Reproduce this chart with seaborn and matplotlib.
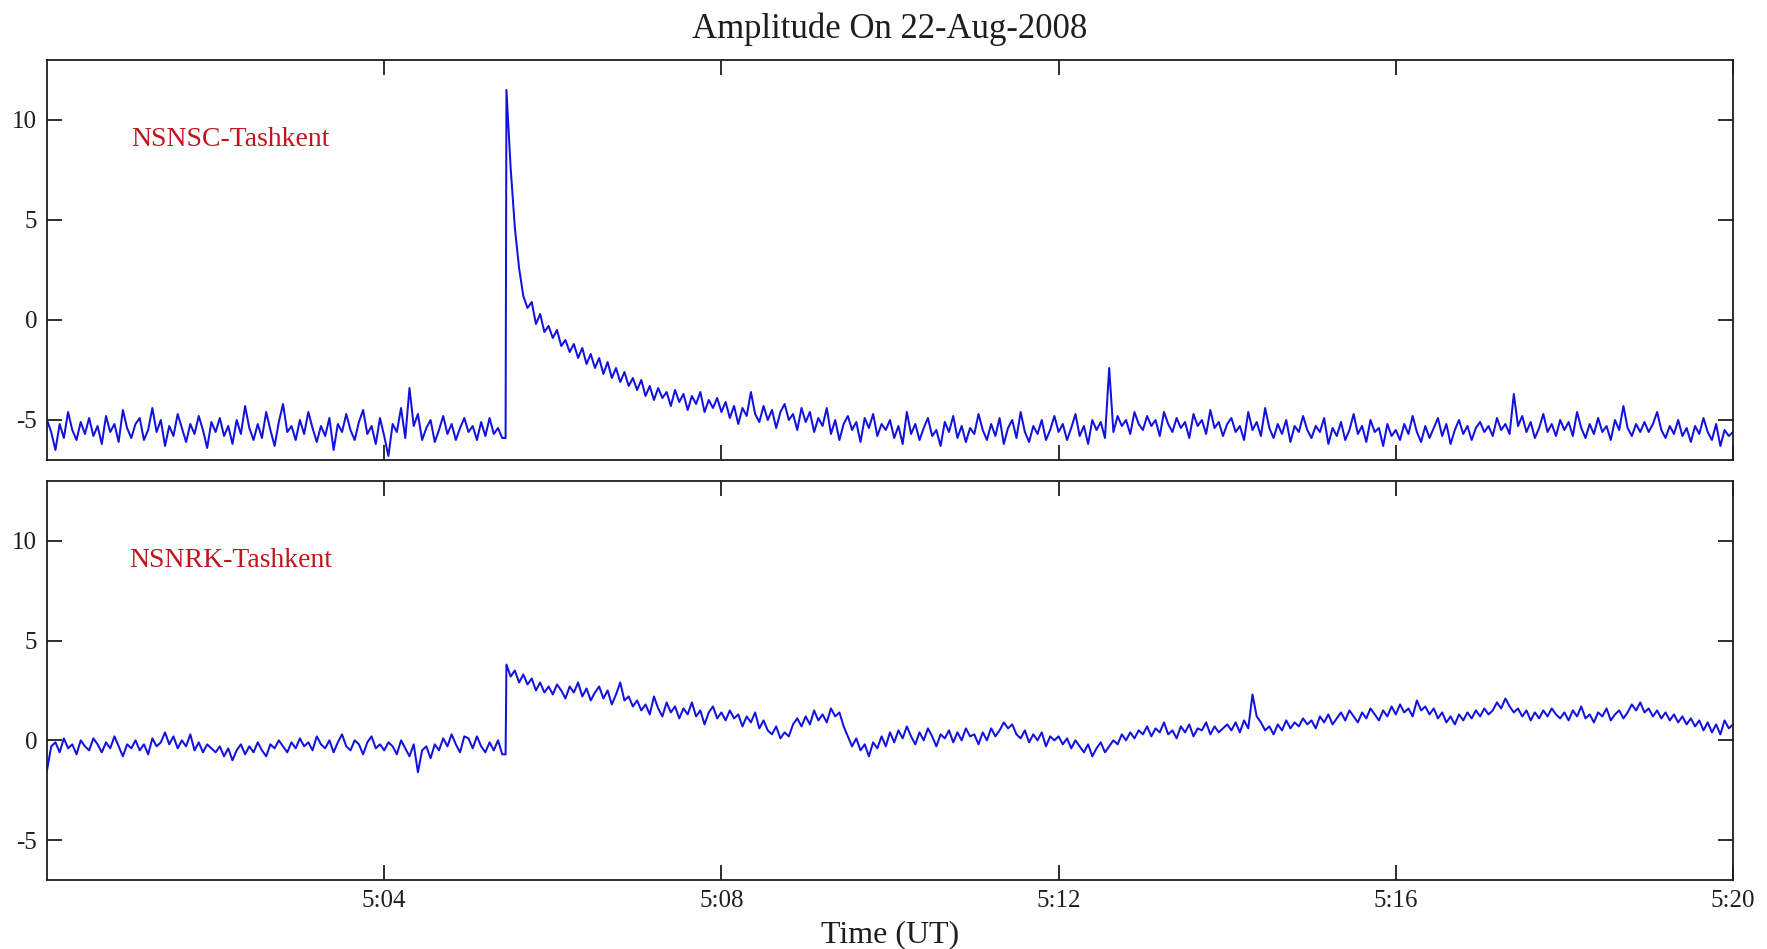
import numpy as np
import pandas as pd
import matplotlib
matplotlib.use("Agg")
import matplotlib.pyplot as plt
import seaborn as sns

# ---------------- data ----------------
TITLE = "Amplitude On 22-Aug-2008"
X_LABEL = "Time (UT)"
STATIONS = ["NSNSC-Tashkent", "NSNRK-Tashkent"]
X_TICKS_MIN = [4, 8, 12, 16, 20]           # minutes after 5:00
X_TICK_LABELS = ["5:04", "5:08", "5:12", "5:16", "5:20"]
Y_TICKS = [-5, 0, 5, 10]
SAMPLE_STEP_MIN = 0.05                     # one sample every 3 s, 5:00 .. 5:20
ONSET_MIN = 5.44                           # flare onset (just before jump)
ONSET_PRE = [-5.9, -0.7]                   # value at onset before the jump

# NSNSC-Tashkent amplitude, one row per minute (20 samples each) + final sample
NSNSC = [
    -5.0, -5.6, -6.5, -5.2, -5.9, -4.6, -5.5, -6.0, -5.1, -5.7, -4.9, -5.8, -5.3, -6.2, -4.8, -5.6, -5.2, -6.1, -4.5, -5.4,
    -5.9, -5.2, -4.9, -6.0, -5.5, -4.4, -5.6, -5.0, -6.3, -5.3, -5.8, -4.7, -5.4, -6.1, -5.2, -5.7, -4.8, -5.5, -6.4, -5.1,
    -5.6, -4.9, -5.8, -5.3, -6.2, -5.0, -5.7, -4.3, -5.4, -6.0, -5.2, -5.9, -4.6, -5.5, -6.3, -5.1, -4.2, -5.6, -5.3, -6.0,
    -5.0, -5.7, -4.6, -5.4, -6.1, -5.3, -5.8, -4.9, -6.5, -5.2, -5.6, -4.7, -5.5, -6.0, -5.1, -4.5, -5.7, -5.3, -6.2, -4.9,
    -5.8, -6.8, -5.2, -5.6, -4.4, -5.9, -3.4, -5.3, -4.7, -6.0, -5.4, -5.0, -6.1, -5.5, -4.8, -5.7, -5.2, -6.0, -5.4, -4.9,
    -5.6, -5.3, -6.0, -5.1, -5.8, -4.9, -5.7, -5.4, -5.9, 11.5, 7.6, 4.6, 2.6, 1.2, 0.6, 0.9, -0.2, 0.3, -0.6, -0.3,
    -0.9, -0.5, -1.3, -1.0, -1.6, -1.2, -1.9, -1.4, -2.2, -1.7, -2.4, -1.9, -2.7, -2.1, -2.9, -2.4, -3.1, -2.6, -3.3, -2.9,
    -3.5, -3.0, -3.8, -3.3, -4.0, -3.4, -3.9, -3.6, -4.3, -3.5, -4.1, -3.7, -4.5, -3.8, -4.2, -3.6, -4.6, -4.0, -4.4, -3.9,
    -4.6, -4.1, -4.9, -4.3, -5.2, -4.4, -4.8, -3.6, -4.7, -5.1, -4.3, -5.0, -4.5, -5.4, -4.6, -4.2, -5.0, -4.7, -5.5, -4.4,
    -5.1, -4.6, -5.6, -4.9, -5.3, -4.4, -5.7, -5.0, -6.0, -5.2, -4.8, -5.5, -5.1, -6.1, -4.9, -5.4, -4.7, -5.8, -5.2, -5.5,
    -5.0, -5.9, -5.3, -6.2, -4.6, -5.7, -5.2, -6.0, -5.4, -4.9, -5.8, -5.5, -6.3, -5.1, -5.6, -4.8, -5.9, -5.3, -6.1, -5.4,
    -5.7, -4.7, -5.5, -6.0, -5.2, -5.8, -4.9, -6.2, -5.4, -5.0, -5.9, -4.6, -5.6, -6.1, -5.3, -5.7, -5.0, -6.0, -5.5, -4.8,
    -5.6, -5.2, -6.0, -5.4, -4.7, -5.8, -5.3, -6.2, -5.0, -5.5, -5.1, -5.9, -2.4, -5.6, -4.8, -5.3, -5.0, -5.7, -4.6, -5.2,
    -5.5, -4.8, -5.3, -5.0, -5.8, -4.6, -5.2, -5.6, -4.9, -5.4, -5.1, -5.9, -4.7, -5.3, -5.0, -5.7, -4.5, -5.4, -5.1, -5.8,
    -5.2, -4.9, -5.6, -5.3, -6.0, -4.6, -5.5, -5.1, -5.8, -4.4, -5.4, -5.9, -5.2, -5.7, -5.0, -6.1, -5.3, -5.6, -4.8, -5.5,
    -5.9, -5.3, -5.6, -4.9, -6.2, -5.4, -5.8, -5.1, -6.0, -5.5, -4.7, -5.7, -5.3, -6.1, -5.0, -5.6, -5.4, -6.3, -5.2, -5.8,
    -5.5, -6.0, -5.2, -5.7, -4.8, -5.6, -6.1, -5.3, -5.9, -5.4, -4.9, -5.8, -5.2, -6.2, -5.5, -5.0, -5.7, -5.3, -6.0, -5.4,
    -5.1, -5.6, -5.3, -5.8, -4.9, -5.5, -5.2, -5.7, -3.7, -5.3, -4.8, -5.6, -5.1, -5.9, -5.4, -4.7, -5.6, -5.2, -5.8, -5.0,
    -5.5, -5.1, -5.8, -4.6, -5.4, -5.9, -5.2, -5.7, -4.9, -5.6, -5.3, -6.0, -5.0, -5.5, -4.3, -5.4, -5.8, -5.2, -5.6, -5.1,
    -5.6, -5.2, -4.6, -5.5, -5.9, -5.3, -5.7, -5.0, -5.8, -5.4, -6.1, -5.3, -5.7, -4.9, -5.6, -6.0, -5.2, -6.3, -5.5, -5.8,
    -5.6,
]

# NSNRK-Tashkent amplitude, one row per minute (20 samples each) + final sample
NSNRK = [
    -1.5, -0.3, -0.1, -0.6, 0.1, -0.4, -0.2, -0.7, 0.0, -0.3, -0.5, 0.1, -0.2, -0.6, -0.1, -0.4, 0.2, -0.3, -0.8, -0.2,
    -0.4, 0.0, -0.5, -0.2, -0.7, 0.1, -0.3, -0.1, 0.4, -0.2, 0.2, -0.4, 0.0, -0.3, 0.3, -0.5, -0.1, -0.6, -0.2, -0.4,
    -0.6, -0.3, -0.8, -0.4, -1.0, -0.5, -0.2, -0.7, -0.3, -0.6, -0.1, -0.5, -0.8, -0.2, -0.4, 0.0, -0.3, -0.6, -0.1, -0.4,
    0.1, -0.3, -0.1, -0.5, 0.2, -0.2, -0.4, 0.0, -0.6, -0.1, 0.3, -0.3, -0.5, 0.0, -0.2, -0.7, -0.1, 0.2, -0.4, -0.2,
    -0.5, -0.1, -0.3, -0.7, 0.0, -0.4, -0.8, -0.2, -1.6, -0.5, -0.3, -0.9, -0.2, -0.5, 0.1, -0.3, 0.3, -0.2, -0.6, 0.2,
    0.1, -0.4, 0.2, -0.3, -0.6, -0.1, -0.5, 0.0, -0.7, 3.8, 3.2, 3.5, 2.9, 3.3, 2.8, 3.1, 2.5, 2.9, 2.4, 2.7,
    2.3, 2.8, 2.5, 2.1, 2.7, 2.4, 2.9, 2.2, 2.6, 2.0, 2.4, 2.7, 2.1, 2.5, 1.8, 2.3, 2.9, 2.0, 2.2, 1.7,
    2.0, 1.5, 1.8, 1.3, 2.2, 1.6, 1.2, 1.9, 1.4, 1.7, 1.1, 1.6, 1.3, 1.9, 1.2, 1.5, 0.8, 1.4, 1.7, 1.1,
    1.4, 1.0, 1.5, 1.1, 1.3, 0.7, 1.2, 0.9, 1.4, 0.6, 1.0, 0.5, 0.3, 0.7, 0.1, 0.4, 0.2, 0.8, 1.1, 0.7,
    1.2, 0.8, 1.5, 1.0, 1.3, 0.9, 1.6, 1.2, 1.4, 0.7, 0.2, -0.3, 0.1, -0.5, -0.2, -0.8, -0.1, -0.4, 0.2, -0.3,
    0.4, -0.1, 0.5, 0.1, 0.7, 0.2, -0.2, 0.4, 0.0, 0.6, 0.2, -0.3, 0.3, 0.1, 0.5, -0.1, 0.4, 0.0, 0.6, 0.2,
    0.3, -0.2, 0.4, 0.0, 0.6, 0.2, 0.5, 0.9, 0.6, 0.8, 0.3, 0.1, 0.5, -0.1, 0.3, 0.0, 0.4, -0.3, 0.2, 0.0,
    0.2, -0.2, 0.1, -0.4, 0.0, -0.3, -0.6, -0.2, -0.8, -0.4, -0.1, -0.6, -0.3, 0.0, -0.2, 0.3, 0.0, 0.4, 0.1, 0.5,
    0.3, 0.7, 0.2, 0.6, 0.4, 0.9, 0.3, 0.5, 0.1, 0.7, 0.4, 0.8, 0.2, 0.6, 0.5, 0.9, 0.3, 0.7, 0.4, 0.6,
    0.8, 0.5, 0.9, 0.4, 1.0, 0.6, 2.3, 1.2, 0.9, 0.5, 0.7, 0.3, 0.8, 0.5, 1.0, 0.6, 0.9, 0.7, 1.1, 0.8,
    1.0, 0.6, 1.2, 0.9, 1.3, 0.8, 1.1, 1.4, 1.0, 1.5, 1.2, 0.9, 1.4, 1.1, 1.6, 1.3, 1.0, 1.5, 1.2, 1.7,
    1.3, 1.8, 1.4, 1.6, 1.2, 2.0, 1.5, 1.7, 1.3, 1.6, 1.1, 1.4, 0.9, 1.2, 0.8, 1.3, 1.0, 1.4, 1.1, 1.5,
    1.2, 1.6, 1.3, 1.5, 1.9, 1.6, 2.1, 1.7, 1.4, 1.6, 1.2, 1.5, 1.0, 1.4, 1.1, 1.5, 1.2, 1.6, 1.3, 1.1,
    1.4, 1.0, 1.5, 1.2, 1.7, 1.1, 1.3, 0.9, 1.4, 1.2, 1.6, 1.0, 1.3, 1.5, 1.1, 1.4, 1.8, 1.5, 1.9, 1.4,
    1.6, 1.2, 1.5, 1.1, 1.4, 1.0, 1.3, 0.9, 1.2, 0.8, 1.1, 0.7, 1.0, 0.5, 0.9, 0.4, 0.8, 0.3, 1.0, 0.6,
    0.8,
]

# ---------------- build frames ----------------
def build_frame(values, pre_value):
    t = np.round(np.arange(len(values)) * SAMPLE_STEP_MIN, 4)
    v = np.asarray(values, dtype=float)
    idx = np.searchsorted(t, ONSET_MIN)
    t = np.insert(t, idx, ONSET_MIN)
    v = np.insert(v, idx, pre_value)
    return pd.DataFrame({"minute": t, "amplitude": v})

frames = [build_frame(NSNSC, ONSET_PRE[0]), build_frame(NSNRK, ONSET_PRE[1])]

# ---------------- style ----------------
sns.set_style("ticks")
plt.rcParams["font.family"] = ["Liberation Serif", "DejaVu Serif"]
plt.rcParams["axes.linewidth"] = 1.3

W, H = 1767, 949
fig = plt.figure(figsize=(W / 100, H / 100), dpi=100)
left, right = 47 / W, 1733 / W
boxes = [(60, 460), (481, 880)]
axes = []
for top_px, bot_px in boxes:
    ax = fig.add_axes([left, 1 - bot_px / H, right - left, (bot_px - top_px) / H])
    axes.append(ax)

LINE_COLOR = "#1212e0"
LABEL_COLOR = "#c0151c"
INK = "#1e1e1e"

for i, (ax, df, name) in enumerate(zip(axes, frames, STATIONS)):
    sns.lineplot(data=df, x="minute", y="amplitude", ax=ax, color=LINE_COLOR,
                 linewidth=1.45, estimator=None, sort=False)
    ax.set_xlim(0, 20)
    ax.set_ylim(-7, 13)
    ax.set_xticks(X_TICKS_MIN)
    ax.set_yticks(Y_TICKS)
    ax.set_yticklabels([str(v) for v in Y_TICKS])
    ax.tick_params(direction="in", length=11, width=1.3, top=True, right=True,
                   labelsize=18, pad=7, colors=INK)
    ax.set_ylabel("")
    if i == 0:
        ax.set_xticklabels([])
        ax.set_xlabel("")
    else:
        ax.set_xticklabels(X_TICK_LABELS)
        ax.set_xlabel(X_LABEL, fontsize=23, labelpad=6, color=INK)
    for s in ax.spines.values():
        s.set_visible(True)
        s.set_color(INK)
    ax.text(2.18, 9.0, name, color=LABEL_COLOR, fontsize=20,
            ha="center", va="center")

fig.text(0.5 * (left + right), 1 - 29 / H, TITLE, fontsize=25,
         ha="center", va="center", color=INK)

fig.savefig("out.png", dpi=100)
